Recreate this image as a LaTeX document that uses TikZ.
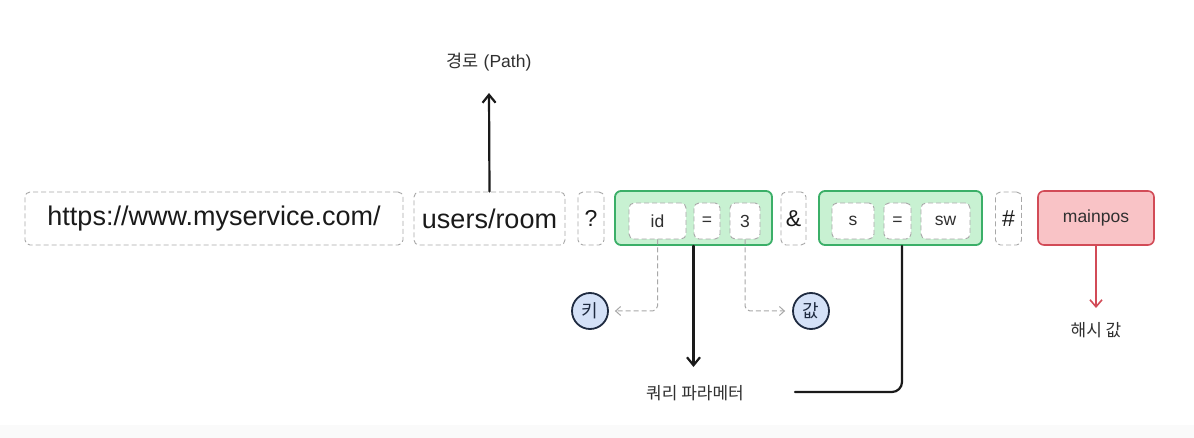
\documentclass[tikz,border=0pt]{standalone}
\usepackage{fontspec}
\setmainfont{Liberation Sans}
\newfontfamily\kr{Noto Sans CJK KR}
\usetikzlibrary{arrows.meta}
\definecolor{dashgray}{HTML}{A8A8A8}
\definecolor{greenfill}{HTML}{C8F1D2}
\definecolor{greenline}{HTML}{3BAF68}
\definecolor{redfill}{HTML}{F9C3C6}
\definecolor{redline}{HTML}{D24B57}
\definecolor{bluefill}{HTML}{D4E1F7}
\definecolor{navy}{HTML}{1E2A40}
\definecolor{txt}{HTML}{1A1A1A}
\definecolor{lbl}{HTML}{303030}
\begin{document}
\begin{tikzpicture}[x=1pt,y=-1pt,
  bigtxt/.style={font=\fontsize{27}{32}\selectfont, text=txt},
  smalltxt/.style={font=\fontsize{17.5}{21}\selectfont, text=lbl},
  dbox/.style={draw=dashgray, dash pattern=on 5pt off 3pt, line width=0.9pt,
    rounded corners=5pt, inner sep=0pt, minimum height=53pt},
  ibox/.style={dbox, fill=white, minimum height=36pt, smalltxt},
  gbox/.style={draw=greenline, fill=greenfill, line width=1.8pt,
    rounded corners=6pt, inner sep=0pt, minimum height=54pt},
  rbox/.style={draw=redline, fill=redfill, line width=1.6pt,
    rounded corners=6pt, inner sep=0pt, minimum height=54pt, smalltxt},
  circ/.style={circle, draw=navy, fill=bluefill, line width=1.8pt,
    minimum size=36pt, inner sep=0pt, font=\kr\fontsize{18}{20}\selectfont, text=navy},
  blackarrow/.style={draw=txt, line width=2.2pt, line cap=round,
    -{Straight Barb[length=8pt,width=13pt,line width=2.2pt]}},
  blackline/.style={draw=txt, line width=2.2pt, line cap=round},
  redarrow/.style={draw=redline, line width=1.6pt, line cap=round,
    -{Straight Barb[length=7pt,width=12pt,line width=1.6pt]}},
  grayarrow/.style={draw=dashgray, line width=1pt, dash pattern=on 5pt off 3pt,
    rounded corners=5pt, -{Straight Barb[length=5pt,width=9pt,line width=1pt]}}
]
\useasboundingbox (0,0) rectangle (1194,438);
\fill[white] (0,0) rectangle (1194,438);
\fill[black!2] (0,425) rectangle (1194,438);

% top row
\node[dbox, bigtxt, minimum width=378pt] (host) at (214,218.5) {https://www.myservice.com/};
\node[dbox, bigtxt, minimum width=151pt] (users) at (489.5,218.5) {users/room};
\node[dbox, font=\fontsize{23}{26}\selectfont, text=txt, minimum width=26pt] (qm) at (591,218.5) {?};
\node[gbox, minimum width=157pt] (g1) at (693.5,218) {};
\node[ibox, minimum width=57pt] (id) at (657.5,221) {id};
\node[ibox, minimum width=26pt] (eq1) at (707,221) {=};
\node[ibox, minimum width=30pt] (three) at (745,221) {3};
\node[dbox, font=\fontsize{23}{26}\selectfont, text=txt, minimum width=25pt] (amp) at (793.5,218.5) {\&};
\node[gbox, minimum width=163pt] (g2) at (900.5,218) {};
\node[ibox, minimum width=42pt] (s) at (853,221) {s};
\node[ibox, minimum width=27pt] (eq2) at (897.5,221) {=};
\node[ibox, minimum width=49pt] (sw) at (945.5,221) {sw};
\node[dbox, font=\fontsize{23}{26}\selectfont, text=txt, minimum width=26pt] (hash) at (1008.5,218.5) {\#};
\node[rbox, minimum width=116pt] (mainpos) at (1096,218) {mainpos};

% labels
\node[smalltxt] (pathlbl) at (489,62) {{\kr 경로} (Path)};
\node[smalltxt, font=\kr\fontsize{17}{20}\selectfont] (querylbl) at (695,393) {쿼리 파라메터};
\node[smalltxt, font=\kr\fontsize{17}{20}\selectfont] (hashlbl) at (1096,330) {해시 값};
\node[circ] (key) at (590,311) {키};
\node[circ] (val) at (811,311) {값};

\coordinate (pathend) at (489,93);
\coordinate (qend) at (693.5,367);
\coordinate (qline) at (795,392);
\coordinate (hend) at (1096,308);

% connectors
\draw[blackarrow] (users.north) -- (pathend);
\draw[grayarrow, shorten >=6pt] (id.south) |- (key.east);
\draw[grayarrow, shorten >=7pt] (three.south) |- (val.west);
\draw[blackarrow] (g1.south) -- (qend);
\draw[blackline, rounded corners=10pt] ([xshift=1.5pt]g2.south) |- (qline);
\draw[redarrow] (mainpos.south) -- (hend);
\end{tikzpicture}
\end{document}
